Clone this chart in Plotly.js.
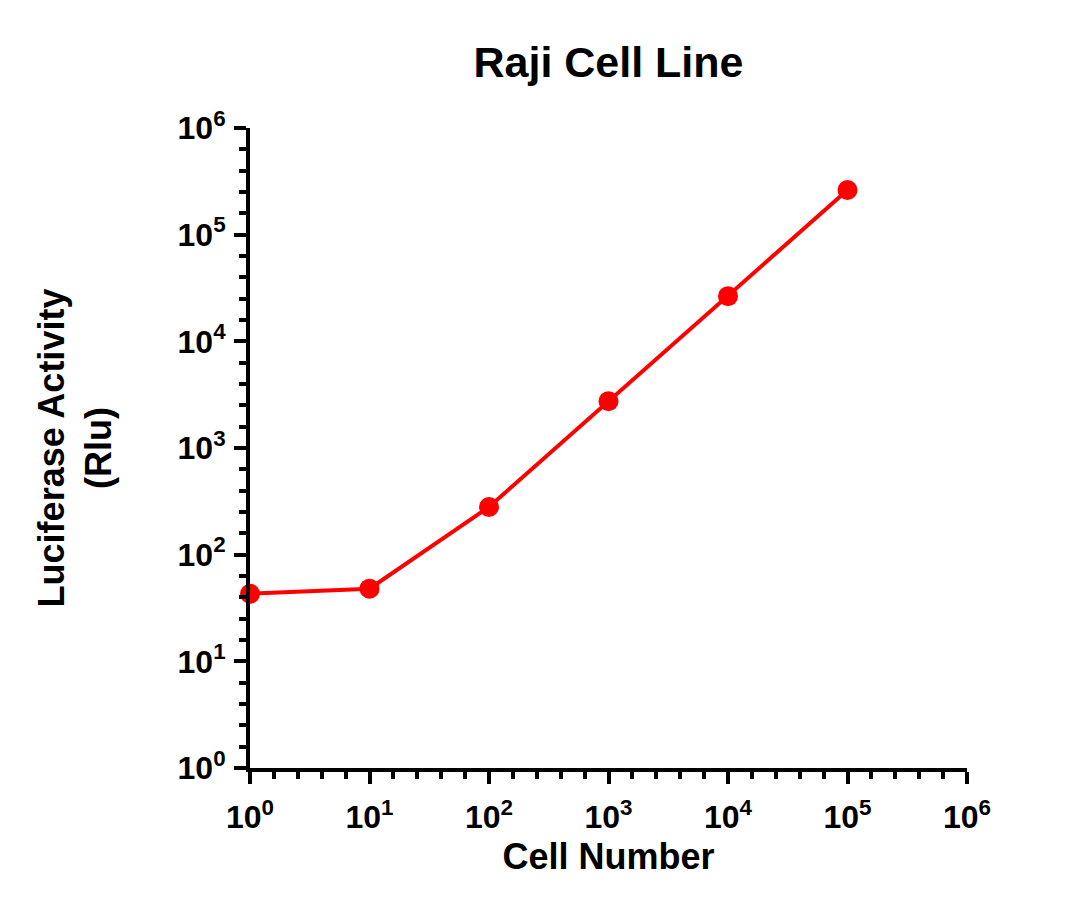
<!DOCTYPE html>
<html>
<head>
<meta charset="utf-8">
<script src="https://cdn.plot.ly/plotly-3.0.1.min.js"></script>
<style>html,body{margin:0;padding:0;background:#fff;}</style>
</head>
<body>
<div id="chart" style="width:1080px;height:912px;"></div>
<script>
const cellNumber = [1, 10, 100, 1000, 10000, 100000];
const luciferase = [43, 48, 280, 2750, 26500, 262000];
const majorTickVals = [1, 10, 100, 1000, 10000, 100000, 1000000];
const majorTickText = ['10<sup>0</sup>', '10<sup>1</sup>', '10<sup>2</sup>', '10<sup>3</sup>', '10<sup>4</sup>', '10<sup>5</sup>', '10<sup>6</sup>'];
const minorExponents = [];
for (let d = 0; d < 6; d++) { for (let k = 1; k < 5; k++) minorExponents.push(d + k * 0.2); }
const minorTickVals = minorExponents.map(e => Math.pow(10, e));

const fontFam = 'Liberation Sans, Arial, sans-serif';
const trace = {
  x: cellNumber, y: luciferase, type: 'scatter', mode: 'lines+markers',
  line: {color: '#ff0000', width: 4},
  marker: {color: '#ff0000', size: 20},
  cliponaxis: false
};
const axisCommon = {
  type: 'log', showgrid: false, zeroline: false,
  showline: true, linecolor: '#000', linewidth: 4,
  ticks: 'outside', ticklen: 12, tickwidth: 4, tickcolor: '#000',
  tickmode: 'array', tickvals: majorTickVals, ticktext: majorTickText,
  tickfont: {family: fontFam, size: 32, color: '#000', weight: 'bold'},
  minor: {tickmode: 'array', tickvals: minorTickVals, ticks: 'outside', ticklen: 7, tickwidth: 4, tickcolor: '#000', showgrid: false},
  range: [0, 6], fixedrange: true
};
const layout = {
  width: 1080, height: 912,
  margin: {l: 250, r: 113, t: 128, b: 144},
  paper_bgcolor: '#fff', plot_bgcolor: '#fff',
  showlegend: false,
  title: {text: '<b>Raji Cell Line</b>', x: 0.5, xanchor: 'center', xref: 'paper', y: 0.932, yanchor: 'middle', font: {family: fontFam, size: 43, color: '#000'}},
  xaxis: Object.assign({}, axisCommon, {
    ticklabelstandoff: 6,
    title: {text: '<b>Cell Number</b>', font: {family: fontFam, size: 36, color: '#000'}, standoff: 10}
  }),
  yaxis: Object.assign({}, axisCommon, {
    ticklabelstandoff: 2,
    title: {text: '<b>Luciferase Activity<br>(Rlu)</b>', font: {family: fontFam, size: 36, color: '#000'}, standoff: 56}
  })
};
Plotly.newPlot('chart', [trace], layout, {displayModeBar: false, staticPlot: true});
</script>
</body>
</html>
